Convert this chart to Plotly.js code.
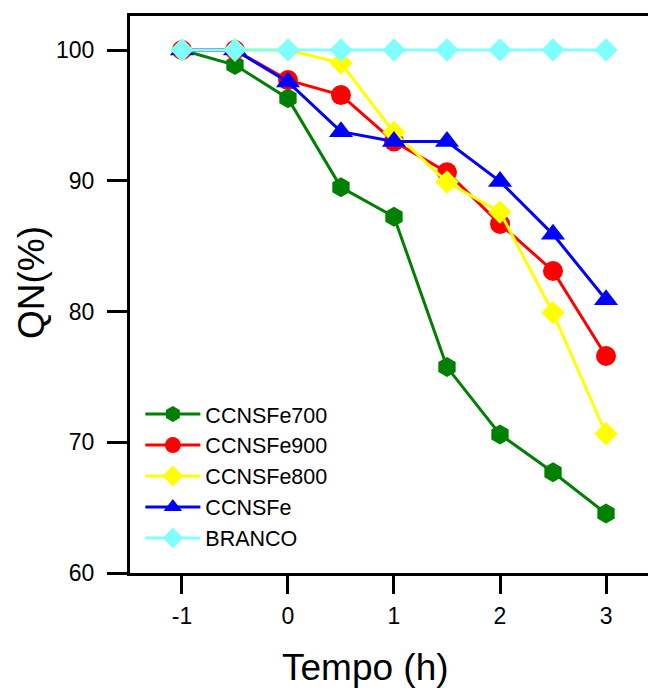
<!DOCTYPE html>
<html>
<head>
<meta charset="utf-8">
<script src="https://cdn.plot.ly/plotly-3.0.1.min.js"></script>
<style>html,body{margin:0;padding:0;background:#fff;}#chart{width:648px;height:690px;}</style>
</head>
<body>
<div id="chart"></div>
<script>
var tempo = [-1, -0.5, 0, 0.5, 1, 1.5, 2, 2.5, 3];
var ccnsfe700 = [100, 98.85, 96.3, 89.5, 87.25, 75.75, 70.6, 67.7, 64.55];
var ccnsfe900 = [100, 100, 97.7, 96.55, 93.0, 90.65, 86.7, 83.1, 76.6];
var ccnsfe800 = [100, 100, 100, 99.0, 93.7, 89.9, 87.6, 79.9, 70.65];
var ccnsfe = [100, 100, 97.55, 93.75, 93.0, 93.0, 89.95, 85.9, 80.9];
var branco = [100, 100, 100, 100, 100, 100, 100, 100, 100];
var xTicks = [-1, 0, 1, 2, 3];
var yTicks = [60, 70, 80, 90, 100];

function tr(name, y, color, symbol, size) {
  return {
    x: tempo, y: y, name: name, type: 'scatter', mode: 'lines+markers',
    line: {color: color, width: 3},
    marker: {color: color, symbol: symbol, size: size, line: {width: 0}}
  };
}
var data = [
  tr('CCNSFe700', ccnsfe700, '#008000', 'hexagon', 20),
  tr('CCNSFe900', ccnsfe900, '#ff0000', 'circle', 20),
  tr('CCNSFe800', ccnsfe800, '#ffff00', 'diamond', 18),
  tr('CCNSFe', ccnsfe, '#0000ff', 'triangle-up', 21),
  tr('BRANCO', branco, '#80ffff', 'diamond', 18)
];
var font = 'Arial, "Liberation Sans", sans-serif';
var layout = {
  width: 648, height: 690,
  margin: {l: 130, r: 0, t: 16, b: 117, pad: 0},
  paper_bgcolor: '#fff', plot_bgcolor: '#fff',
  showlegend: true,
  font: {family: font, color: '#000'},
  xaxis: {
    range: [-1.49, 3.396], tickvals: xTicks, ticktext: xTicks.map(String),
    showgrid: false, zeroline: false, showline: true, linewidth: 3, linecolor: '#000',
    mirror: true, ticks: 'outside', ticklen: 18, tickwidth: 3, tickcolor: '#000',
    tickfont: {size: 23, family: font}, ticklabelstandoff: 2
  },
  yaxis: {
    range: [60, 102.6], tickvals: yTicks, ticktext: yTicks.map(String),
    showgrid: false, zeroline: false, showline: true, linewidth: 3, linecolor: '#000',
    ticks: 'outside', ticklen: 20, tickwidth: 3, tickcolor: '#000',
    tickfont: {size: 23, family: font}, ticklabelstandoff: 8
  },
  legend: {
    x: 0.02, y: 0.322, xanchor: 'left', yanchor: 'top',
    bgcolor: 'rgba(0,0,0,0)', borderwidth: 0,
    font: {size: 21.5, family: font, color: '#000'},
    itemwidth: 55, tracegroupgap: 0
  },
  annotations: [
    {text: 'Tempo (h)', xref: 'paper', yref: 'paper', x: 0.4537, y: -0.1688,
     xanchor: 'center', yanchor: 'middle', showarrow: false,
     font: {size: 37, family: font, color: '#000'}},
    {text: 'QN(%)', xref: 'paper', yref: 'paper', x: -0.191, y: 0.5206,
     xanchor: 'center', yanchor: 'middle', showarrow: false, textangle: -90,
     font: {size: 37, family: font, color: '#000'}}
  ]
};
Plotly.newPlot('chart', data, layout, {displayModeBar: false, staticPlot: true});
</script>
</body>
</html>
